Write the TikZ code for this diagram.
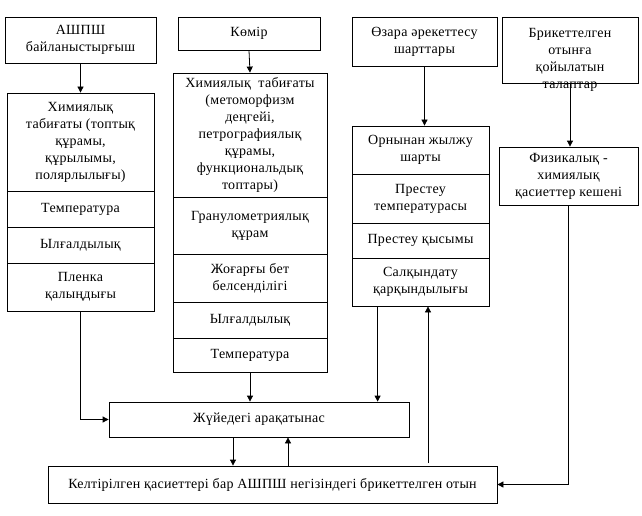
\documentclass[tikz,border=0pt]{standalone}
\usepackage{fontspec}
\setmainfont[LetterSpace=2]{Liberation Serif}
\usetikzlibrary{arrows.meta}
\begin{document}
\begin{tikzpicture}[x=1pt,y=-1pt,
  box/.style={draw,line width=0.8pt,inner sep=0pt,align=center,
    font=\fontsize{14}{17}\selectfont},
  txt/.style={inner sep=0pt,align=center,font=\fontsize{14}{17}\selectfont},
  conn/.style={line width=0.8pt},
  arr/.style={line width=0.8pt,-{Triangle[width=6pt,length=6pt]}}]
\useasboundingbox (0,0) rectangle (642,516);
% top row
\node[box,minimum width=151,minimum height=46] (A) at (80.5,40) {АШПШ\\байланыстырғыш};
\node[box,minimum width=142,minimum height=33] (B) at (249,33.5) {Көмір};
\node[box,minimum width=145,minimum height=49] (C) at (424.5,41.5) {Өзара әрекеттесу\\шарттары};
\node[box,minimum width=136,minimum height=66] (D) at (570,50) {};
\node[txt,anchor=north] (Dt) at (570,28) {Брикеттелген\\отынға\\қойылатын\\талаптар};
% left column
\node[box,minimum width=147,minimum height=98] (L1) at (80.5,142) {Химиялық\\табиғаты (топтық\\құрамы,\\құрылымы,\\полярлылығы)};
\node[box,minimum width=147,minimum height=36] (L2) at (80.5,209) {Температура};
\node[box,minimum width=147,minimum height=36] (L3) at (80.5,245) {Ылғалдылық};
\node[box,minimum width=147,minimum height=48] (L4) at (80.5,287) {Пленка\\қалыңдығы};
% middle column
\node[box,minimum width=154,minimum height=124] (M1) at (250,135) {Химиялық\ \ табиғаты\\(метоморфизм\\деңгейі,\\петрографиялық\\құрамы,\\функциональдық\\топтары)};
\node[box,minimum width=154,minimum height=57] (M2) at (250,225.5) {Гранулометриялық\\құрам};
\node[box,minimum width=154,minimum height=48] (M3) at (250,278) {Жоғарғы бет\\белсенділігі};
\node[box,minimum width=154,minimum height=36] (M4) at (250,320) {Ылғалдылық};
\node[box,minimum width=154,minimum height=34] (M5) at (250,355) {Температура};
% right column
\node[box,minimum width=137,minimum height=48] (R1) at (420.5,150) {Орнынан жылжу\\шарты};
\node[box,minimum width=137,minimum height=49] (R2) at (420.5,198.5) {Престеу\\температурасы};
\node[box,minimum width=137,minimum height=35] (R3) at (420.5,240.5) {Престеу қысымы};
\node[box,minimum width=137,minimum height=48] (R4) at (420.5,282) {Салқындату\\қарқындылығы};
% right box
\node[box,minimum width=139,minimum height=58] (E) at (568.5,176) {Физикалық -\\химиялық\\қасиеттер кешені};
% bottom
\node[box,minimum width=300,minimum height=35] (F) at (259,419.5) {Жүйедегі арақатынас};
\node[box,minimum width=449,minimum height=37] (G) at (272.5,484.5) {Келтірілген қасиеттері бар АШПШ негізіндегі брикеттелген отын};
\coordinate (Gtop) at (428,463);
% connectors
\draw[arr] (A.south) -- (L1.north);
\draw[arr] (B.south) -- (M1.north);
\draw[arr] (C.south) -- (C.south |- R1.north);
\draw[arr] (D.south) -- (D.south |- E.north);
\draw[arr] (L4.south) |- (F.west);
\draw[arr] (M5.south) -- (M5.south |- F.north);
\draw[arr] ([xshift=26pt]R4.south west) -- ([xshift=26pt]R4.south west |- F.north);
\draw[arr] ([xshift=-26pt]F.south) -- ([xshift=-26pt]F.south |- G.north);
\draw[arr] ([xshift=29pt]F.south |- G.north) -- ([xshift=29pt]F.south);
\draw[arr] (Gtop) -- (Gtop |- R4.south);
\draw[arr] (E.south) |- (G.east);
\end{tikzpicture}
\end{document}
